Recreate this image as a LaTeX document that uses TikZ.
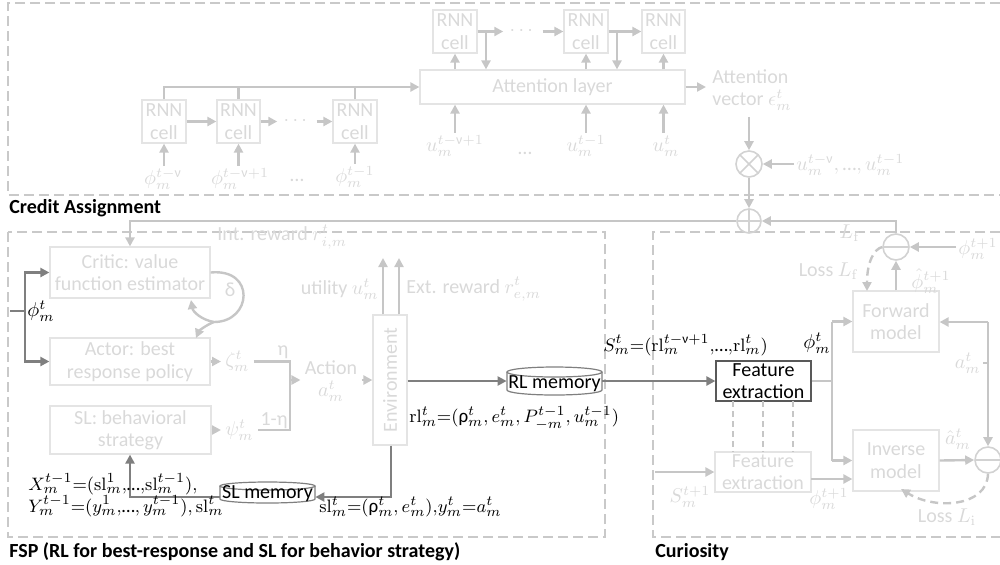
\documentclass[tikz,border=0pt]{standalone}
\usepackage{amsmath}
\usepackage[no-math]{fontspec}
\setmainfont{Carlito}
\usetikzlibrary{arrows.meta,fit,calc}

\definecolor{boxline}{HTML}{E4E4E4}
\definecolor{fainttext}{HTML}{D9D9D9}
\definecolor{lightarrow}{HTML}{C6C6C6}
\definecolor{regionline}{HTML}{C9C9C9}
\definecolor{darkline}{HTML}{7F7F7F}
\definecolor{circline}{HTML}{D2D2D2}

% upright Greek letters and the ellipsis taken from the text font
\newcommand{\vnu}{\text{ν}}
\newcommand{\vrho}{\text{ρ}}
\newcommand{\tdots}{\text{…}}

\begin{document}
\begin{tikzpicture}[x=0.5pt, y=-0.5pt,
  font=\fontsize{10}{11.2}\selectfont,
  tip/.style={-{Triangle[length=4.5pt,width=4.5pt]}},
  fbox/.style={draw=boxline, line width=0.6pt, inner sep=0pt},
  febox/.style={draw=darkline!70!black, line width=0.6pt, inner sep=0pt},
  boxtxt/.style={text=fainttext, align=center, inner sep=0pt},
  fetxt/.style={text=black, align=center, inner sep=0pt},
  ftxt/.style={text=fainttext, inner sep=1pt},
  btxt/.style={text=black, inner sep=1pt},
  eqtxt/.style={btxt, anchor=west, font=\fontsize{9.5}{10.5}\selectfont},
  lline/.style={draw=lightarrow, line width=1.2pt},
  larr/.style={lline, tip},
  dline/.style={draw=darkline, line width=1.2pt},
  darr/.style={dline, tip},
  lossdash/.style={dash pattern=on 4pt off 2.5pt},
  memline/.style={draw=darkline, line width=0.6pt},
  region/.style={draw=regionline, line width=1.1pt, dash pattern=on 5pt off 2.5pt},
  title/.style={font=\fontsize{10}{11.2}\selectfont\bfseries, anchor=west, inner sep=0pt},
  sumnode/.style={circle, draw=circline, line width=0.8pt, minimum size=13pt, inner sep=0pt},
  plusnode/.style={sumnode, minimum size=12pt, path picture={\draw[circline, line width=0.8pt]
      (path picture bounding box.north) -- (path picture bounding box.south)
      (path picture bounding box.west) -- (path picture bounding box.east);}},
  timesnode/.style={sumnode, path picture={\draw[circline, line width=0.8pt]
      ([shift={(45:7pt)}]path picture bounding box.center) -- ([shift={(225:7pt)}]path picture bounding box.center)
      ([shift={(135:7pt)}]path picture bounding box.center) -- ([shift={(-45:7pt)}]path picture bounding box.center);}},
  minusnode/.style={sumnode, path picture={\draw[circline, line width=0.8pt]
      (path picture bounding box.west) -- (path picture bounding box.east);}}
]
\useasboundingbox (0,0) rectangle (1000,564);

% ---------- dashed regions and their titles ----------
\draw[region] (1000,3) -- (8,3) -- (8,195) -- (1000,195);
\draw[region] (8,232) rectangle (605,537);
\draw[region] (1000,232) -- (653,232) -- (653,537) -- (1000,537);
\node[title] (tca) at (9,208) {Credit Assignment};
\node[title] (tfsp) at (9,552) {FSP (RL for best-response and SL for behavior strategy)};
\node[title] (tcur) at (655,552) {Curiosity};

% ---------- credit assignment ----------
\node[fbox, fit={(142,100)(186,143)}] (c1) {};
\node[fbox, fit={(217,100)(260,143)}] (c2) {};
\node[fbox, fit={(333,100)(377,143)}] (c3) {};
\node[fbox, fit={(420,70)(685,104)}] (att) {};
\node[fbox, fit={(433,10)(477,53)}] (t1) {};
\node[fbox, fit={(564,10)(608,53)}] (t2) {};
\node[fbox, fit={(642,10)(685,53)}] (t3) {};
\node[boxtxt] (c1t) at (c1.center) {RNN\\cell};
\node[boxtxt] (c2t) at (c2.center) {RNN\\cell};
\node[boxtxt] (c3t) at (c3.center) {RNN\\cell};
\node[boxtxt] (attt) at (att.center) {Attention layer};
\node[boxtxt] (t1t) at (t1.center) {RNN\\cell};
\node[boxtxt] (t2t) at (t2.center) {RNN\\cell};
\node[boxtxt] (t3t) at (t3.center) {RNN\\cell};

\node[ftxt, inner sep=3pt] (d1) at (297,121.5) {$\cdots$};
\draw[larr] (c1.east) -- (c2.west);
\draw[larr] (c2.east) -- (d1.west);
\draw[larr] (d1.east) -- (c3.west);
\draw[larr] (c1.north) |- (att.west);
\draw[lline] (c2.north) -- (c2.north |- att.west);
\draw[lline] (c3.north) -- (c3.north |- att.west);

\node[ftxt] (pa) at (163,179) {$\phi_m^{t-\vnu}$};
\node[ftxt] (pb) at (240,179) {$\phi_m^{t-\vnu+1}$};
\node[ftxt] (pdots) at (297,180) {…};
\node[ftxt] (pc) at (355,177) {$\phi_m^{t-1}$};
\draw[larr] (pa.north -| c1.south) -- (c1.south);
\draw[larr] (pb.north -| c2.south) -- (c2.south);
\draw[larr] (pc.north -| c3.south) -- (c3.south);

\node[ftxt, inner sep=3pt] (d2) at (523,31.5) {$\cdots$};
\draw[larr] (t1.east) -- (d2.west);
\draw[larr] (d2.east) -- (t2.west);
\draw[larr] (t2.east) -- (t3.west);
\coordinate (b1) at (486,31.5);
\coordinate (b2) at (617,31.5);
\draw[larr] (b1) -- (b1 |- att.north);
\draw[larr] (b2) -- (b2 |- att.north);
\draw[larr] (t1.south |- att.north) -- (t1.south);
\draw[larr] (t2.south |- att.north) -- (t2.south);
\draw[larr] (t3.south |- att.north) -- (t3.south);

\node[ftxt] (ua) at (455,146) {$u_m^{t-\vnu+1}$};
\node[ftxt] (udots) at (525,153) {…};
\node[ftxt] (ub) at (586,146) {$u_m^{t-1}$};
\node[ftxt] (uc) at (666,146) {$u_m^{t}$};
\draw[larr] (ua.north -| t1.south) -- (t1.south |- att.south);
\draw[larr] (ub.north -| t2.south) -- (t2.south |- att.south);
\draw[larr] (uc.north -| t3.south) -- (t3.south |- att.south);

\node[ftxt, align=left, anchor=west, inner sep=3pt] (avec) at (706,90) {Attention\\vector $\epsilon_m^t$};
\draw[larr] (att.east) -- (att.east -| avec.west);
\node[timesnode] (otimes) at (749,164) {};
\draw[larr] (otimes.north |- avec.south) -- (otimes.north);
\node[ftxt, anchor=west] (useq) at (794,165) {$u_m^{t-\vnu},\tdots,u_m^{t-1}$};
\draw[larr] (useq.west |- otimes.east) -- (otimes.east);
\node[plusnode] (oplus) at (749,221) {};
\draw[larr] (otimes.south) -- (oplus.north);

% ---------- FSP ----------
\node[fbox, fit={(50,247)(210,298)}] (critic) {};
\node[fbox, fit={(50,338)(210,385)}] (actor) {};
\node[fbox, fit={(50,406)(211,454)}] (sl) {};
\node[boxtxt] (critict) at (critic.center) {Critic: value\\function estimator};
\node[boxtxt] (actort) at (actor.center) {Actor: best\\response policy};
\node[boxtxt] (slt) at (sl.center) {SL: behavioral\\strategy};

\draw[larr] (oplus.west) -| (critic.north);
\node[ftxt, anchor=west] (intr) at (215,237) {Int. reward $r_{i,m}^t$};

\coordinate (brk) at (25,311);
\coordinate (tick) at (10,311);
\draw[dline] (tick) -- (brk);
\draw[darr] (brk) |- (critic.west);
\draw[darr] (brk) |- (actor.west);
\node[btxt, anchor=west] (phim) at (25,311) {$\phi_m^t$};

% critic / actor feedback loop
\coordinate (dl) at (214,322);
\coordinate (dcr) at (191,300);
\coordinate (dac) at (196,338);
\draw[lline] (critic.east) .. controls (256,268) and (252,322) .. (dl);
\draw[larr] (dl) .. controls (202,320) and (193,312) .. (dcr);
\draw[larr] (dl) .. controls (206,325) and (199,331) .. (dac);
\node[ftxt] (delta) at (230,290) {δ};

\node[ftxt, anchor=west, inner sep=2pt] (zeta) at (221,361.5) {$\zeta_m^t$};
\node[ftxt, anchor=west, inner sep=2pt] (psi) at (221,430) {$\psi_m^t$};
\draw[larr] (actor.east) -- (zeta.west |- actor.east);
\draw[larr] (sl.east) -- (psi.west |- sl.east);
\coordinate (jt) at (290,361.5);
\coordinate (jb) at (290,430);
\coordinate (jm) at (290,380);
\draw[lline] (zeta.east |- jt) -- (jt) -- (jb) -- (psi.east |- jb);
\node[ftxt] (eta) at (283,352) {η};
\node[ftxt] (oneeta) at (274,421) {1-η};

\node[fbox, fit={(373,315)(407,445)}] (env) {};
\node[ftxt, rotate=90] (envt) at (env.center) {Environment};
\node[ftxt, align=center, inner sep=2pt] (action) at (331,381) {Action\\$a_m^t$};
\draw[larr] (jm) -- (jm -| action.west);
\draw[larr] (action.east |- env.west) -- (env.west);

\coordinate (uo) at (383,258);
\coordinate (eo) at (399,258);
\draw[larr] (uo |- env.north) -- (uo);
\draw[larr] (eo |- env.north) -- (eo);
\node[ftxt, anchor=east] (util) at (381,289) {utility $u_m^t$};
\node[ftxt, anchor=west] (extr) at (404,289) {Ext. reward $r_{e,m}^t$};

% replay memories
\node[inner sep=0pt, fit={(507,367)(602,395)}] (rlm) {};
\draw[memline] (554.5,372) ellipse [x radius=23.75pt, y radius=2.5pt];
\draw[memline] (507,372) -- (507,390) arc[start angle=180, end angle=360, x radius=23.75pt, y radius=2.5pt] -- (602,372);
\node[btxt] (rlmt) at (554.5,384) {RL memory};

\node[inner sep=0pt, fit={(220,482)(315,503)}] (slm) {};
\draw[memline] (267.5,486) ellipse [x radius=23.75pt, y radius=2pt];
\draw[memline] (220,486) -- (220,499) arc[start angle=180, end angle=360, x radius=23.75pt, y radius=2pt] -- (315,486);
\node[btxt] (slmt) at (267.5,494) {SL memory};

\draw[darr] (env.east |- rlm.west) -- (rlm.west);
\coordinate (ed) at (391,497);
\draw[darr] (env.south -| ed) -- (ed) -- (ed -| slm.east);
\coordinate (sld) at (130,497);
\draw[darr] (slm.west |- sld) -- (sld) -- (sld |- sl.south);

\node[eqtxt] (rleq) at (407,418) {$\mathrm{rl}_m^t{=}(\vrho_m^t, e_m^t, P_{-m}^{t-1}, u_m^{t-1})$};
\node[eqtxt] (xl) at (26,484) {$X_m^{t-1}{=}(\mathrm{sl}_m^1{,}\tdots{,}\mathrm{sl}_m^{t-1}),$};
\node[eqtxt] (yl) at (26,506) {$Y_m^{t-1}{=}(y_m^1{,}\tdots{,}\,y_m^{t-1}),\mathrm{sl}_m^t$};
\node[eqtxt] (sleq) at (317,507) {$\mathrm{sl}_m^t{=}(\vrho_m^t, e_m^t){,}y_m^t{=}a_m^t$};

% ---------- curiosity ----------
\node[fbox, fit={(853,291)(939,352)}] (fwd) {};
\node[fbox, fit={(853,430)(939,491)}] (inv) {};
\node[febox, fit={(716,361)(811,401)}] (fe1) {};
\node[fbox, fit={(715,452)(811,492)}] (fe2) {};
\node[boxtxt] (fwdt) at (fwd.center) {Forward\\model};
\node[boxtxt] (invt) at (inv.center) {Inverse\\model};
\node[fetxt] (fe1t) at (fe1.center) {Feature\\extraction};
\node[boxtxt] (fe2t) at (fe2.center) {Feature\\extraction};

\draw[darr] (rlm.east) -- (fe1.west);
\node[eqtxt] (seq) at (601,345) {$S_m^t{=}(\mathrm{rl}_m^{t-\vnu+1}{,}\tdots{,}\mathrm{rl}_m^t)$};
\node[btxt, anchor=west] (phift) at (801,343) {$\phi_m^t$};

\foreach \x in {733,763,793}
  \draw[draw=lightarrow, line width=0.6pt, dash pattern=on 3pt off 2pt] (\x,401) -- (\x,452);

\coordinate (jf) at (832,381);
\draw[lline] (fe1.east) -- (jf);
\draw[lline] (jf |- fwd.west) -- (jf |- inv.west);
\draw[larr] (jf |- fwd.west) -- (fwd.west);
\draw[larr] (jf |- inv.west) -- (inv.west);
\coordinate (fo) at (811,479);
\draw[larr] (fo) -- (fo -| inv.west);
\coordinate (sin) at (655,472);
\draw[larr] (sin) -- (sin -| fe2.west);
\node[ftxt] (snext) at (690,497) {$S_m^{t+1}$};
\node[ftxt] (phinext) at (829,499) {$\phi_m^{t+1}$};

\node[minusnode] (fminus) at (896,247) {};
\draw[larr] (fwd.north) -- (fminus.south);
\draw[larr] (fminus.north) |- (oplus.east);
\node[ftxt] (lf) at (850,233) {$L_{\mathrm f}$};
\node[ftxt, anchor=west] (phin1) at (956,249) {$\phi_m^{t+1}$};
\draw[larr] (phin1.west |- fminus.east) -- (fminus.east);
\node[ftxt, anchor=west] (phihat) at (909,281) {$\hat{\phi}_m^{t+1}$};
\node[ftxt, anchor=east] (lossf) at (861,271) {Loss $L_{\mathrm f}$};
\coordinate (lfe) at (867,291);
\draw[larr, lossdash] (fminus.west) .. controls (874,249) and (867,262) .. (lfe);

\coordinate (ac) at (988,322);
\node[minusnode] (iminus) at (988,460) {};
\draw[larr] (ac) -- (ac -| fwd.east);
\draw[larr] (ac) -- (iminus.north);
\node[ftxt, anchor=east] (alab) at (983,363) {$a_m^t$};
\draw[lline, line width=0.8pt] (alab.east) -- (alab.east -| ac);
\draw[larr] (inv.east) -- (iminus.west);
\node[ftxt] (ahat) at (958,439) {$\hat{a}_m^t$};
\coordinate (lie) at (901,489);
\draw[larr, lossdash] (iminus.south) .. controls (987,507) and (935,510) .. (lie);
\node[ftxt] (lossi) at (947,517) {Loss $L_{\mathrm i}$};
\end{tikzpicture}
\end{document}
